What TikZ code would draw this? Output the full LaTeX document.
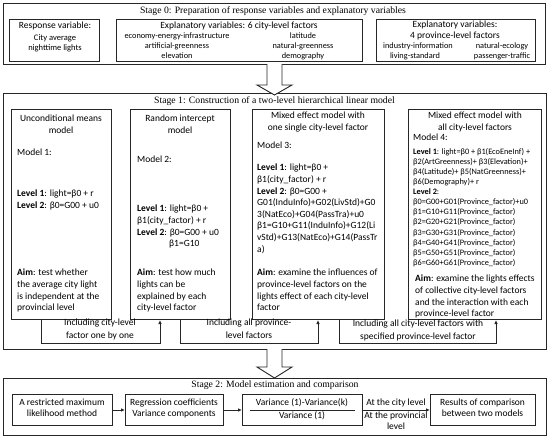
\documentclass[tikz,border=0pt]{standalone}
\usepackage{fontspec}
\setmainfont{Carlito}
\newfontfamily\timesf{Liberation Serif}
\usetikzlibrary{arrows.meta,calc}
\begin{document}
\begin{tikzpicture}[x=1pt,y=-1pt,
  frame/.style={draw=black!85, line width=1pt, inner sep=0pt, anchor=north west},
  txt/.style={inner sep=0pt, font=\fontsize{9.5}{11.6}\selectfont, align=left, anchor=north west},
  ctxt/.style={inner sep=0pt, font=\fontsize{9.5}{11.6}\selectfont, align=center, anchor=north},
  lbl/.style={inner sep=0pt, font=\fontsize{9.5}{12.4}\selectfont, align=center, anchor=north},
  small/.style={inner sep=0pt, font=\fontsize{8.3}{10.1}\selectfont, align=left, anchor=north west},
  fac/.style={inner sep=0pt, font=\fontsize{8.3}{10}\selectfont},
  stitle/.style={inner sep=0pt, font=\timesf\fontsize{9.7}{11}\selectfont},
  arr/.style={draw=black!85, line width=0.9pt, -{Latex[length=4pt,width=3.5pt]}},
  plain/.style={draw=black!85, line width=0.8pt},
  hollow/.style={draw=black!85, line width=0.9pt, fill=white}
]
\useasboundingbox (0,0) rectangle (550,442);
\fill[white] (0,0) rectangle (550,442);

% ---------------- Stage 0 ----------------
\node[frame, minimum width=542pt, minimum height=61pt] (s0) at (3,3) {};
\node[stitle] (s0t) at (273,11) {Stage 0: Preparation of response variables and explanatory variables};
\node[frame, minimum width=90pt, minimum height=42pt] (r0) at (9,19) {};
\node[ctxt] (r0a) at (55,22) {Response variable:};
\node[inner sep=0pt, font=\fontsize{8.5}{10.3}\selectfont, align=center, anchor=north] (r0b) at (55,34.5) {City average\\nighttime lights};
\node[frame, minimum width=246pt, minimum height=42pt] (e6) at (116,19) {};
\node[ctxt] (e6a) at (239,22) {Explanatory variables: 6 city-level factors};
\node[fac] (e6b) at (177,36) {economy-energy-infrastructure};
\node[fac] (e6c) at (303,36) {latitude};
\node[fac] (e6d) at (177,46.5) {artificial-greenness};
\node[fac] (e6e) at (303,46.5) {natural-greenness};
\node[fac] (e6f) at (177,56) {elevation};
\node[fac] (e6g) at (303,56) {demography};
\node[frame, minimum width=159pt, minimum height=42pt] (e4) at (376,19) {};
\node[ctxt] (e4a) at (455,20.5) {Explanatory variables:\\4 province-level factors};
\node[fac] (e4b) at (418,46.5) {industry-information};
\node[fac] (e4c) at (502,46.5) {natural-ecology};
\node[fac] (e4d) at (415,56) {living-standard};
\node[fac] (e4e) at (502,56) {passenger-traffic};

% ---------------- Stage 1 ----------------
\node[frame, minimum width=543pt, minimum height=256pt] (s1) at (3,93) {};
\node[stitle] (s1t) at (274.5,101) {Stage 1: Construction of a two-level hierarchical linear model};

\node[frame, minimum width=100pt, minimum height=210pt] (b1) at (11,109) {};
\node[frame, minimum width=100pt, minimum height=210pt] (b2) at (130,109) {};
\node[frame, minimum width=132pt, minimum height=210pt] (b3) at (252,109) {};
\node[frame, minimum width=133pt, minimum height=210pt] (b4) at (408,109) {};

\node[ctxt] (t1) at (61,115) {Unconditional means\\model};
\node[txt] (m1a) at (17,149) {Model 1:};
\node[txt] (m1b) at (17,190) {\textbf{Level 1}: light=β0 + r\\\textbf{Level 2}: β0=G00 + u0};
\node[txt] (m1c) at (17,269) {\textbf{Aim}: test whether\\the average city light\\is independent at the\\provincial level};

\node[ctxt] (t2) at (180,115) {Random intercept\\model};
\node[txt] (m2a) at (137,156) {Model 2:};
\node[txt] (m2b) at (137,205) {\textbf{Level 1}: light=β0 +\\β1(city\_factor) + r\\\textbf{Level 2}: β0=G00 + u0\\\hspace*{32pt}β1=G10};
\node[txt] (m2c) at (137,269) {\textbf{Aim}: test how much\\lights can be\\explained by each\\city-level factor};

\node[ctxt] (t3) at (318,112) {Mixed effect model with\\one single city-level factor};
\node[txt] (m3a) at (257,142) {Model 3:};
\node[txt] (m3b) at (257,164) {\textbf{Level 1}: light=β0 +\\β1(city\_factor) + r\\\textbf{Level 2}: β0=G00 +\\G01(InduInfo)+G02(LivStd)+G0\\3(NatEco)+G04(PassTra)+u0\\β1=G10+G11(InduInfo)+G12(Li\\vStd)+G13(NatEco)+G14(PassTr\\a)};
\node[txt] (m3c) at (257,269) {\textbf{Aim}: examine the influences of\\province-level factors on the\\lights effect of each city-level\\factor};

\node[ctxt] (t4) at (475,112) {Mixed effect model with\\all city-level factors};
\node[txt] (m4a) at (413,134) {Model 4:};
\node[small] (m4b) at (413,148) {\textbf{Level 1}: light=β0 + β1(EcoEneInf) +\\β2(ArtGreenness)+ β3(Elevation)+\\β4(Latitude)+ β5(NatGreenness)+\\β6(Demography)+ r\\\textbf{Level 2}:\\β0=G00+G01(Province\_factor)+u0\\β1=G10+G11(Province\_factor)\\β2=G20+G21(Province\_factor)\\β3=G30+G31(Province\_factor)\\β4=G40+G41(Province\_factor)\\β5=G50+G51(Province\_factor)\\β6=G60+G61(Province\_factor)};
\node[txt] (m4c) at (415,275) {\textbf{Aim}: examine the lights effects\\of collective city-level factors\\and the interaction with each\\province-level factor};

% connectors
\draw[arr] ($(b1.south west)+(30,0)$) -- ++(0,23) -| ($(b2.south west)+(30,0)$);
\draw[arr] ($(b2.south west)+(50,0)$) -- ++(0,23) -| ($(b3.south west)+(66,0)$);
\draw[arr] ($(b3.south west)+(87,0)$) -- ++(0,23) -| ($(b4.south west)+(88,0)$);
\node[lbl] (l1) at (100,319) {Including city-level\\factor one by one};
\node[lbl] (l2) at (249,319) {Including all province-\\level factors};
\node[lbl] (l3) at (418,320) {Including all city-level factors with\\specified province-level factor};

% ---------------- Stage 2 ----------------
\node[frame, minimum width=543pt, minimum height=57pt] (s2) at (3,378) {};
\node[stitle] (s2t) at (275,385) {Stage 2: Model estimation and comparison};
\node[frame, minimum width=100pt, minimum height=31pt] (sa) at (12,394) {};
\node[frame, minimum width=98pt, minimum height=31pt] (sb) at (125,394) {};
\node[frame, minimum width=120pt, minimum height=31pt] (sc) at (242,394) {};
\node[frame, minimum width=105pt, minimum height=31pt] (sd) at (430,394) {};
\node[ctxt] (sat) at (62,398.5) {A restricted maximum\\likelihood method};
\node[ctxt] (sbt) at (174,398.5) {Regression coefficients\\Variance components};
\node[ctxt] (sct) at (302,398.5) {Variance (1)-Variance(k)};
\node[ctxt] (scb) at (302,411.5) {Variance (1)};
\draw[plain] ($(sc.west)+(8,0)$) -- ($(sc.east)+(-8,0)$);
\node[ctxt] (sdt) at (482.5,398.5) {Results of comparison\\between two models};
\node[ctxt] (lc) at (396,398.5) {At the city level};
\node[ctxt] (lp) at (396,411.5) {At the provincial\\level};
\draw[arr] (sa.east) -- (sb.west);
\draw[arr] (sb.east) -- (sc.west);
\draw[arr] (sc.east) -- (sd.west);

% hollow arrows
\draw[hollow] (267,64) -- (267,85) -- (257,85) -- (274.5,95) -- (292,85) -- (282,85) -- (282,64);
\draw[hollow] (267,349) -- (267,367) -- (257,367) -- (274.5,378) -- (292,367) -- (282,367) -- (282,349);
\end{tikzpicture}
\end{document}
